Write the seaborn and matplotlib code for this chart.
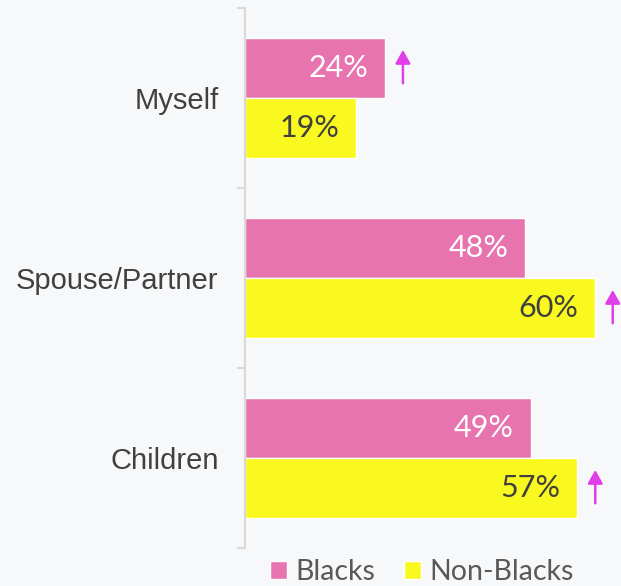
import pandas as pd
import matplotlib.pyplot as plt
import seaborn as sns
from matplotlib.patches import Patch
from matplotlib.transforms import offset_copy

# data
categories = ["Myself", "Spouse/Partner", "Children"]
blacks = [24, 48, 49]
non_blacks = [19, 60, 57]
groups = ["Blacks", "Non-Blacks"]
# which bars carry the "up" arrow
arrow_blacks = [True, False, False]
arrow_non_blacks = [False, True, True]

pink = "#e774ae"
yellow = "#f9f91f"
bg = "#f7f8fa"
arrow_col = "#e03ee6"

df = pd.DataFrame({
    "category": categories * 2,
    "group": [groups[0]] * 3 + [groups[1]] * 3,
    "value": blacks + non_blacks,
})

sns.set_style("white")
plt.rcParams["font.family"] = ["Liberation Sans", "DejaVu Sans"]

fig = plt.figure(figsize=(6.21, 5.86), dpi=100, facecolor=bg)
ax = fig.add_axes([245 / 621, 38 / 586, 373 / 621, 540 / 586])
ax.set_facecolor(bg)

sns.barplot(data=df, y="category", x="value", hue="group", orient="h",
            palette=[pink, yellow], width=0.667, order=categories,
            hue_order=groups, saturation=1, ax=ax, legend=False)

ax.set_xlim(0, 64)
ax.set_ylim(2.5, -0.5)
ax.set_xlabel("")
ax.set_ylabel("")
ax.set_xticks([])

for s in ["top", "right", "bottom"]:
    ax.spines[s].set_visible(False)
ax.spines["left"].set_color("#d9d9d9")
ax.spines["left"].set_linewidth(1.5)

ax.set_yticks([-0.5, 0.5, 1.5, 2.5], minor=True)
ax.tick_params(axis="y", which="minor", length=6, width=1.5, color="#d9d9d9", left=True)
ax.tick_params(axis="y", which="major", length=0, pad=19, labelsize=21, labelcolor="#404040")

label_colors = ["white", "#404040"]
arrows = [arrow_blacks, arrow_non_blacks]
lab_tr = offset_copy(ax.transData, fig=fig, x=-12, y=0, units="points")
up_tr0 = offset_copy(ax.transData, fig=fig, x=13, y=-11, units="points")
up_tr1 = offset_copy(ax.transData, fig=fig, x=13, y=13, units="points")
for cont, lc, arr in zip(ax.containers, label_colors, arrows):
    for bar, flag in zip(cont, arr):
        x = bar.get_width()
        y = bar.get_y() + bar.get_height() / 2
        ax.text(x, y, f"{x:.0f}%", transform=lab_tr, ha="right", va="center",
                color=lc, fontsize=22, family=["Lato", "DejaVu Sans"])
        if flag:
            ax.annotate("", xy=(x, y), xycoords=up_tr1, xytext=(x, y), textcoords=up_tr0,
                        arrowprops=dict(arrowstyle="-|>,head_length=0.8,head_width=0.45",
                                        color=arrow_col, lw=1.8, shrinkA=0, shrinkB=0),
                        annotation_clip=False)

handles = [Patch(facecolor=pink), Patch(facecolor=yellow)]
leg = ax.legend(handles, groups, loc="center", bbox_to_anchor=(0.475, -0.045),
                ncol=2, frameon=False, handlelength=0.6, handleheight=0.6,
                handletextpad=0.3, columnspacing=1.0,
                prop={"family": ["Lato", "DejaVu Sans"], "size": 20.5})
for t in leg.get_texts():
    t.set_color("#595959")

fig.savefig("out.png", dpi=100, facecolor=bg)
